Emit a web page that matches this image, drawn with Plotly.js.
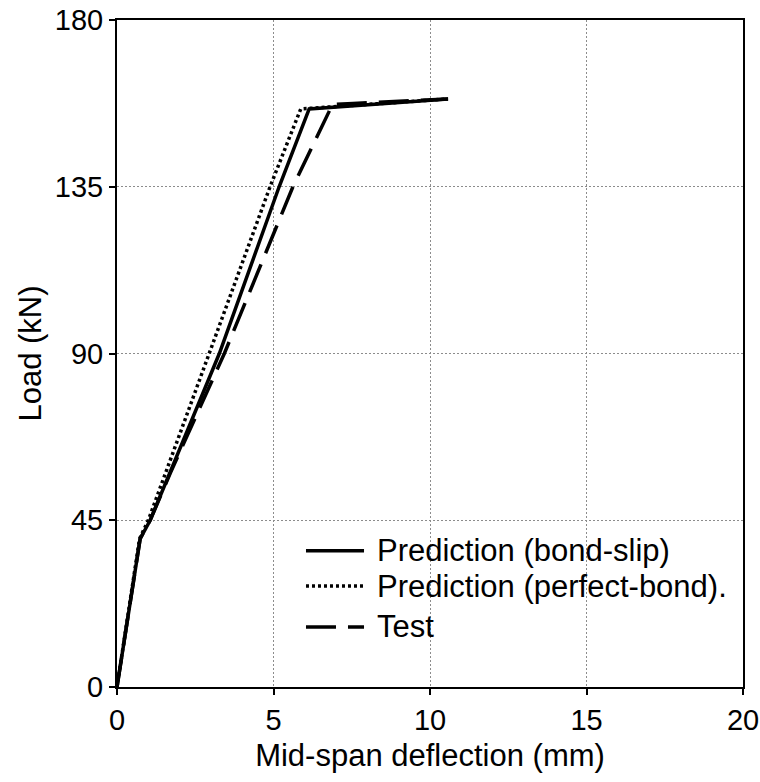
<!DOCTYPE html>
<html>
<head>
<meta charset="utf-8">
<script src="https://cdn.plot.ly/plotly-3.0.1.min.js"></script>
<style>
  html, body { margin: 0; padding: 0; background: #ffffff; }
  #chart { width: 760px; height: 782px; }
</style>
</head>
<body>
<div id="chart"></div>
<script>
// ---- data ----
var bondSlipX = [0, 0.74, 1.06, 3.27, 5.18, 6.14, 10.57];
var bondSlipY = [0, 40, 45, 90, 135, 156, 158.7];

var perfectBondX = [0, 0.72, 1.00, 2.95, 4.89, 5.87, 10.57];
var perfectBondY = [0, 40, 45, 90, 135, 156, 158.7];

var testX = [0, 0.74, 1.06, 1.70, 3.43, 5.62, 6.77, 6.86, 7.54, 10.58];
var testY = [0, 40, 45, 57.7, 90, 135, 155.2, 157.2, 157.5, 158.7];

var seriesNames = ["Prediction (bond-slip)", "Prediction (perfect-bond).", "Test"];
var xTickVals = [0, 5, 10, 15, 20];
var yTickVals = [0, 45, 90, 135, 180];
var xTitle = "Mid-span deflection (mm)";
var yTitle = "Load (kN)";

// ---- styles ----
var FONT = "Liberation Sans, Arial, Helvetica, sans-serif";
var dashes = ["solid", "3px,3px", "30px,12px"];
var widths = [3.5, 3.5, 3.5];

var traces = [
  {x: bondSlipX, y: bondSlipY, name: seriesNames[0]},
  {x: perfectBondX, y: perfectBondY, name: seriesNames[1]},
  {x: testX, y: testY, name: seriesNames[2]}
].map(function (t, i) {
  t.type = "scatter";
  t.mode = "lines";
  t.line = {color: "#000000", width: widths[i], dash: dashes[i]};
  t.showlegend = false;
  t.hoverinfo = "x+y+name";
  return t;
});

// manual legend (keys + labels) placed in paper coordinates
var legendKeyX0 = 0.3019, legendKeyX1 = 0.3946, legendTextX = 0.4120;
var legendRowsY = [0.2043, 0.1514, 0.0900];
var shapes = [];
var annotations = [];
for (var i = 0; i < seriesNames.length; i++) {
  shapes.push({
    type: "line", xref: "paper", yref: "paper",
    x0: legendKeyX0, x1: legendKeyX1, y0: legendRowsY[i], y1: legendRowsY[i],
    line: {color: "#000000", width: widths[i], dash: dashes[i]}
  });
  annotations.push({
    xref: "paper", yref: "paper", x: legendTextX, y: legendRowsY[i],
    xanchor: "left", yanchor: "middle", showarrow: false,
    text: seriesNames[i],
    font: {family: FONT, size: 31, color: "#000000"}
  });
}

var layout = {
  width: 760,
  height: 782,
  margin: {l: 117, r: 17, t: 20, b: 95},
  paper_bgcolor: "#ffffff",
  plot_bgcolor: "#ffffff",
  font: {family: FONT, size: 29, color: "#000000"},
  showlegend: false,
  xaxis: {
    range: [0, 20],
    tickvals: xTickVals,
    ticktext: xTickVals.map(String),
    ticks: "outside", ticklen: 6, tickwidth: 1.5, tickcolor: "#000000",
    showline: true, linecolor: "#000000", linewidth: 2, mirror: true,
    showgrid: true, gridcolor: "#8c8c8c", gridwidth: 1, griddash: "2px,2px",
    zeroline: false,
    tickfont: {family: FONT, size: 29, color: "#000000"},
    title: {text: xTitle, font: {family: FONT, size: 31, color: "#000000"}, standoff: 10},
    automargin: false
  },
  yaxis: {
    range: [0, 180],
    tickvals: yTickVals,
    ticktext: yTickVals.map(String),
    ticks: "outside", ticklen: 6, tickwidth: 1.5, tickcolor: "#000000",
    showline: true, linecolor: "#000000", linewidth: 2, mirror: true,
    showgrid: true, gridcolor: "#8c8c8c", gridwidth: 1, griddash: "2px,2px",
    zeroline: false,
    tickfont: {family: FONT, size: 29, color: "#000000"},
    title: {text: yTitle, font: {family: FONT, size: 31, color: "#000000"}, standoff: 4},
    automargin: false
  },
  shapes: shapes,
  annotations: annotations
};

Plotly.newPlot("chart", traces, layout, {displayModeBar: false, staticPlot: false});
</script>
</body>
</html>
